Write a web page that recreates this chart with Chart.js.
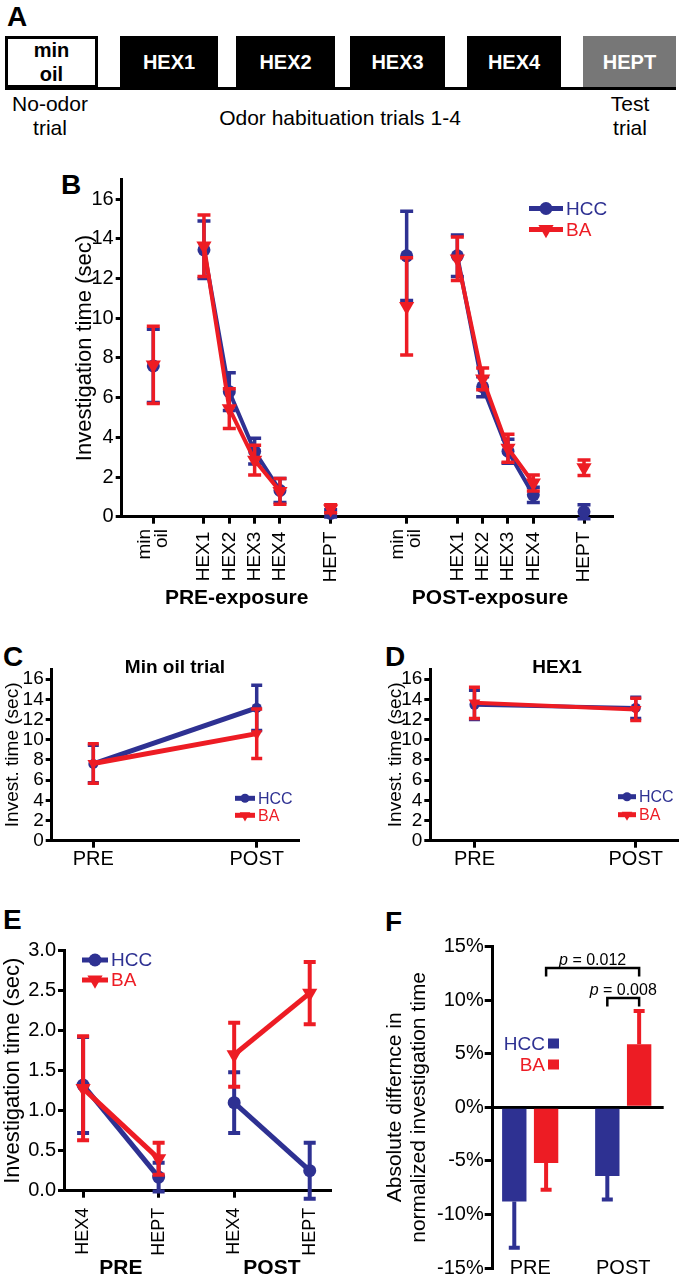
<!DOCTYPE html>
<html>
<head>
<meta charset="utf-8">
<title>Odor habituation</title>
<script src="https://cdn.jsdelivr.net/npm/chart.js@4.4.1/dist/chart.umd.min.js"></script>
<style>
  html, body { margin: 0; padding: 0; background: #fff; }
  body { width: 684px; height: 1280px; position: relative; overflow: hidden;
         font-family: 'Liberation Sans', Arial, Helvetica, sans-serif; color: #000; }
  .letter { position: absolute; font-weight: bold; font-size: 28px; line-height: 1; }
  .stim { position: absolute; top: 36px; height: 52px; box-sizing: border-box;
          display: flex; align-items: center; justify-content: center; text-align: center;
          font-weight: bold; font-size: 20px; color: #fff; background: #000; }
  .note { position: absolute; text-align: center; font-size: 21px; line-height: 24px; }
  canvas { position: absolute; }
</style>
</head>
<body>

<!-- panel A: trial schematic -->
<div class="letter" style="left:7px;top:3px">A</div>
<div class="stim" style="left:5px;width:93px;background:#fff;color:#000;border:3px solid #000;line-height:24.5px">min<br>oil</div>
<div class="stim" style="left:120px;width:98px">HEX1</div>
<div class="stim" style="left:236px;width:99px">HEX2</div>
<div class="stim" style="left:350px;width:95px">HEX3</div>
<div class="stim" style="left:467px;width:94px">HEX4</div>
<div class="stim" style="left:583px;width:93px;background:#777">HEPT</div>
<div style="position:absolute;left:5px;top:87px;width:671px;height:3px;background:#000"></div>
<div class="note" style="left:0;width:100px;top:92px">No-odor<br>trial</div>
<div class="note" style="left:170px;width:340px;top:106px">Odor habituation trials 1-4</div>
<div class="note" style="left:580px;width:100px;top:92px">Test<br>trial</div>

<div class="letter" style="left:61px;top:171px">B</div>
<div class="letter" style="left:3px;top:643px">C</div>
<div class="letter" style="left:385px;top:643px">D</div>
<div class="letter" style="left:3px;top:906px">E</div>
<div class="letter" style="left:385px;top:908px">F</div>

<script>
const FONT = "'Liberation Sans', Arial, Helvetica, sans-serif";
const colHcc = '#2e3192';
const colBa = '#ed1c24';

// ---- B: investigation time per trial, pre and post exposure ----
const bPos = [0, 2, 3, 4, 5, 7, 10, 12, 13, 14, 15, 17];
const bTickLabels = [['min', 'oil'], 'HEX1', 'HEX2', 'HEX3', 'HEX4', 'HEPT',
                     ['min', 'oil'], 'HEX1', 'HEX2', 'HEX3', 'HEX4', 'HEPT'];
const bJoin = [0, 1, 1, 1, 1, 2, 3, 4, 4, 4, 4, 5];   // points with same id are joined
const bHcc    = [7.6, 13.45, 6.3, 3.3, 1.32, 0.17, 13.15, 13.15, 6.55, 3.3, 1.1, 0.25];
const bHccErr = [1.85, 1.45, 0.95, 0.65, 0.6, 0.18, 2.25, 1.05, 0.5, 0.6, 0.38, 0.35];
const bBa     = [7.65, 13.65, 5.45, 2.85, 1.28, 0.4, 10.6, 13.0, 6.95, 3.45, 1.7, 2.47];
const bBaErr  = [1.95, 1.55, 1.0, 0.75, 0.65, 0.2, 2.45, 1.1, 0.55, 0.7, 0.4, 0.39];
const bYTicks = [0, 2, 4, 6, 8, 10, 12, 14, 16];

// ---- C / D: min oil and HEX1 trials, PRE vs POST ----
const cdPos = [0, 1];
const cdLabels = ['PRE', 'POST'];
const cdJoin = [0, 0];
const cHcc = [bHcc[0], bHcc[6]];
const cHccErr = [bHccErr[0], bHccErr[6]];
const cBa = [bBa[0], bBa[6]];
const cBaErr = [bBaErr[0], bBaErr[6]];
const dHcc = [bHcc[1], bHcc[7]];
const dHccErr = [bHccErr[1], bHccErr[7]];
const dBa = [bBa[1], bBa[7]];
const dBaErr = [bBaErr[1], bBaErr[7]];

// ---- E: HEX4 vs HEPT ----
const ePos = [0, 1, 2, 3];
const eLabels = ['HEX4', 'HEPT', 'HEX4', 'HEPT'];
const eJoin = [0, 0, 1, 1];
const eHcc = [bHcc[4], bHcc[5], bHcc[10], bHcc[11]];
const eHccErr = [bHccErr[4], bHccErr[5], bHccErr[10], bHccErr[11]];
const eBa = [bBa[4], bBa[5], bBa[10], bBa[11]];
const eBaErr = [bBaErr[4], bBaErr[5], bBaErr[10], bBaErr[11]];
const eYTicks = [0, 0.5, 1, 1.5, 2, 2.5, 3];

// ---- F: absolute difference in normalized investigation time ----
const fCats = ['PRE', 'POST'];
const fPos = [1, 2];
const fHcc = [-8.8, -6.4];
const fHccErr = [4.3, 2.2];
const fBa = [-5.2, 5.9];
const fBaErr = [2.5, 3.1];
const fYTicks = [-15, -10, -5, 0, 5, 10, 15];

Chart.defaults.font.family = FONT;
Chart.defaults.color = '#000';

function makeCanvas(box) {
  const c = document.createElement('canvas');
  c.width = box.width;
  c.height = box.height;
  c.style.left = box.left + 'px';
  c.style.top = box.top + 'px';
  c.style.width = box.width + 'px';
  c.style.height = box.height + 'px';
  document.body.appendChild(c);
  return c.getContext('2d');
}

// error bars, drawn just before each dataset so later series sit on top
function errorBars(cap, width, oneSided) {
  return {
    id: 'errorBars',
    beforeDatasetDraw(chart, args) {
      const ds = chart.data.datasets[args.index];
      if (!ds.errors) return;
      const ys = chart.scales.y;
      const ctx = chart.ctx;
      ctx.save();
      ctx.strokeStyle = ds.backgroundColor;
      ctx.lineWidth = width;
      args.meta.data.forEach((el, i) => {
        const v = ds.data[i].y, e = ds.errors[i];
        const x = el.x;
        let ends;
        if (oneSided) ends = [v, v >= 0 ? v + e : v - e];
        else ends = [v - e, v + e];
        const p0 = ys.getPixelForValue(ends[0]);
        const p1 = ys.getPixelForValue(ends[1]);
        ctx.beginPath();
        ctx.moveTo(x, p0);
        ctx.lineTo(x, p1);
        (oneSided ? [p1] : [p0, p1]).forEach(p => {
          ctx.moveTo(x - cap, p);
          ctx.lineTo(x + cap, p);
        });
        ctx.stroke();
      });
      ctx.restore();
    }
  };
}

function drawMarker(ctx, style, x, y, r) {
  ctx.beginPath();
  if (style === 'circle') {
    ctx.arc(x, y, r, 0, Math.PI * 2);
  } else {
    ctx.moveTo(x, y + r);
    ctx.lineTo(x - r * 0.866, y - r * 0.5);
    ctx.lineTo(x + r * 0.866, y - r * 0.5);
    ctx.closePath();
  }
  ctx.fill();
}

// "——●—— HCC" style legend
function lineLegend(o) {
  return {
    id: 'lineLegend',
    afterDraw(chart) {
      const ctx = chart.ctx;
      chart.data.datasets.forEach((ds, i) => {
        const y = o.y + i * o.gap;
        ctx.save();
        ctx.strokeStyle = ds.borderColor;
        ctx.fillStyle = ds.borderColor;
        ctx.lineWidth = o.lw;
        ctx.beginPath();
        ctx.moveTo(o.x, y);
        ctx.lineTo(o.x + o.len, y);
        ctx.stroke();
        drawMarker(ctx, ds.pointStyle, o.x + o.len / 2, y,
                   ds.pointStyle === 'circle' ? o.r : o.r * 1.35);
        ctx.font = o.size + 'px ' + FONT;
        ctx.textAlign = 'left';
        ctx.textBaseline = 'middle';
        ctx.fillText(ds.label, o.x + o.len + 3, y + 1);
        ctx.restore();
      });
    }
  };
}

// free text; xv places it through the x scale, lines + rot give rotated tick-style labels
function panelText(items) {
  return {
    id: 'panelText',
    afterDraw(chart) {
      const ctx = chart.ctx;
      items.forEach(it => {
        ctx.save();
        ctx.font = it.font;
        ctx.fillStyle = it.color || '#000';
        ctx.textBaseline = 'middle';
        const x = it.xv !== undefined ? chart.scales.x.getPixelForValue(it.xv) : it.x;
        if (it.lines) {
          ctx.translate(x, it.y);
          ctx.rotate(-Math.PI / 2);
          ctx.textAlign = 'right';
          it.lines.forEach((t, k) => {
            ctx.fillText(t, 0, (k - (it.lines.length - 1) / 2) * it.lh);
          });
        } else {
          ctx.textAlign = 'center';
          ctx.fillText(it.text, x, it.y);
        }
        ctx.restore();
      });
    }
  };
}

function lineSet(label, pos, vals, errs, join, color, style, r, lw, order) {
  return {
    label: label,
    order: order,
    data: pos.map((x, i) => ({ x: x, y: vals[i] })),
    errors: errs,
    borderColor: color,
    backgroundColor: color,
    borderWidth: lw,
    pointStyle: style,
    pointRadius: style === 'circle' ? r : r * 1.35,
    pointRotation: style === 'triangle' ? 180 : 0,
    pointBorderWidth: 0,
    clip: false,
    segment: {
      borderColor: c => join[c.p0DataIndex] === join[c.p1DataIndex] ? color : 'rgba(0,0,0,0)'
    }
  };
}

function lineChart(box, o) {
  const ctx = makeCanvas(box);
  return new Chart(ctx, {
    type: 'line',
    data: {
      datasets: [
        lineSet('HCC', o.pos, o.hcc, o.hccErr, o.join, colHcc, 'circle', o.r, o.lw, 2),
        lineSet('BA', o.pos, o.ba, o.baErr, o.join, colBa, 'triangle', o.r, o.lw, 1)
      ]
    },
    options: {
      responsive: false,
      animation: false,
      devicePixelRatio: 1,
      layout: {
        padding: { left: 0, top: box.area.t - box.top, right: box.left + box.width - box.area.r, bottom: 0 }
      },
      plugins: { legend: { display: false }, tooltip: { enabled: false } },
      scales: {
        x: {
          type: 'linear',
          min: o.xMin,
          max: o.xMax,
          afterBuildTicks: s => { s.ticks = o.pos.map(v => ({ value: v })); },
          afterFit: s => { s.height = box.top + box.height - box.area.b; },
          ticks: {
            autoSkip: false,
            callback: (v, i) => Array.isArray(o.labels[i]) ? '' : o.labels[i],
            font: { size: o.xFont },
            color: '#000',
            padding: o.xPad,
            minRotation: o.rot,
            maxRotation: o.rot
          },
          grid: { drawOnChartArea: false, color: '#000', lineWidth: 3, tickLength: 7 },
          border: { color: '#000', width: 3 }
        },
        y: {
          min: o.yMin,
          max: o.yMax,
          afterBuildTicks: s => { s.ticks = o.yTicks.map(v => ({ value: v })); },
          afterFit: s => { s.width = box.area.l - box.left; },
          ticks: {
            autoSkip: false,
            callback: o.yFmt || (v => v),
            font: { size: o.yFont },
            color: '#000',
            padding: 2
          },
          title: {
            display: true,
            text: o.title,
            font: { size: o.titleSize },
            color: '#000',
            padding: { top: o.titlePad, bottom: 0 }
          },
          grid: { drawOnChartArea: false, color: '#000', lineWidth: 3, tickLength: 6 },
          border: { color: '#000', width: 3 }
        }
      }
    },
    plugins: [errorBars(o.cap, o.ew, false), lineLegend(o.legend), panelText(o.texts)]
  });
}

// B
lineChart({ left: 0, top: 160, width: 684, height: 460, area: { l: 121.7, t: 179.4, r: 612, b: 516.7 } }, {
  pos: bPos, labels: bTickLabels, join: bJoin,
  hcc: bHcc, hccErr: bHccErr, ba: bBa, baErr: bBaErr,
  xMin: -1.247, xMax: 18.105, xFont: 19, xPad: 8, rot: 90,
  yMin: 0, yMax: 17, yTicks: bYTicks, yFont: 20,
  title: 'Investigation time (sec)', titleSize: 22, titlePad: 72,
  r: 6.5, lw: 4, cap: 6.5, ew: 3.5,
  legend: { x: 529, y: 48.5, gap: 21, len: 34, lw: 5, r: 6.5, size: 19 },
  texts: [
    { text: 'PRE-exposure', xv: 3.29, y: 438, font: 'bold 21px ' + FONT },
    { text: 'POST-exposure', xv: 13.29, y: 438, font: 'bold 21px ' + FONT },
    { lines: bTickLabels[0], xv: bPos[0], y: 369, lh: 17, font: '19px ' + FONT },
    { lines: bTickLabels[6], xv: bPos[6], y: 369, lh: 17, font: '19px ' + FONT }
  ]
});

// C
lineChart({ left: 0, top: 630, width: 342, height: 245, area: { l: 51.7, t: 669, r: 298, b: 840.7 } }, {
  pos: cdPos, labels: cdLabels, join: cdJoin,
  hcc: cHcc, hccErr: cHccErr, ba: cBa, baErr: cBaErr,
  xMin: -0.2546, xMax: 1.2527, xFont: 20, xPad: 0, rot: 0,
  yMin: 0, yMax: 17, yTicks: bYTicks, yFont: 19,
  title: 'Invest. time (sec)', titleSize: 19, titlePad: 1,
  r: 5, lw: 5, cap: 5.5, ew: 3.5,
  legend: { x: 235, y: 168.3, gap: 17, len: 20, lw: 5, r: 4.5, size: 16 },
  texts: [{ text: 'Min oil trial', x: 175, y: 38, font: 'bold 19px ' + FONT }]
});

// D
lineChart({ left: 342, top: 630, width: 342, height: 245, area: { l: 430.3, t: 669, r: 682, b: 840.7 } }, {
  pos: cdPos, labels: cdLabels, join: cdJoin,
  hcc: dHcc, hccErr: dHccErr, ba: dBa, baErr: dBaErr,
  xMin: -0.2737, xMax: 1.2573, xFont: 20, xPad: 0, rot: 0,
  yMin: 0, yMax: 17, yTicks: bYTicks, yFont: 19,
  title: 'Invest. time (sec)', titleSize: 19, titlePad: 42,
  r: 5, lw: 4, cap: 5.5, ew: 3.5,
  legend: { x: 276, y: 166.7, gap: 18, len: 18, lw: 5, r: 4.5, size: 16 },
  texts: [{ text: 'HEX1', x: 215, y: 38, font: 'bold 19px ' + FONT }]
});

// E
lineChart({ left: 0, top: 900, width: 342, height: 380, area: { l: 64, t: 950.7, r: 333, b: 1190.7 } }, {
  pos: ePos, labels: eLabels, join: eJoin,
  hcc: eHcc, hccErr: eHccErr, ba: eBa, baErr: eBaErr,
  xMin: -0.2528, xMax: 3.271, xFont: 18, xPad: 10, rot: 90,
  yMin: 0, yMax: 3, yTicks: eYTicks, yFont: 20, yFmt: v => v.toFixed(1),
  title: 'Investigation time (sec)', titleSize: 22, titlePad: 0,
  r: 6.5, lw: 5, cap: 6, ew: 4,
  legend: { x: 82, y: 60, gap: 20, len: 26, lw: 5, r: 6.5, size: 19 },
  texts: [
    { text: 'PRE', xv: 0.5, y: 368, font: 'bold 21px ' + FONT },
    { text: 'POST', xv: 2.5, y: 368, font: 'bold 21px ' + FONT }
  ]
});

// F
(function () {
  const box = { left: 342, top: 900, width: 342, height: 395, area: { l: 492.7, t: 946.7, r: 663.7, b: 1268 } };
  const ctx = makeCanvas(box);
  const brackets = [
    { from: [1, 0], to: [1, 1], y: 13.0, label: '0.012' },
    { from: [0, 1], to: [1, 1], y: 10.2, label: '0.008' }
  ];
  const bracketPlugin = {
    id: 'brackets',
    afterDatasetsDraw(chart) {
      const c = chart.ctx, ys = chart.scales.y;
      brackets.forEach(b => {
        const x1 = chart.getDatasetMeta(b.from[0]).data[b.from[1]].x;
        const x2 = chart.getDatasetMeta(b.to[0]).data[b.to[1]].x;
        const y = ys.getPixelForValue(b.y);
        c.save();
        c.strokeStyle = '#000';
        c.lineWidth = 2.5;
        c.beginPath();
        c.moveTo(x1, y + 8.5);
        c.lineTo(x1, y);
        c.lineTo(x2, y);
        c.lineTo(x2, y + 8.5);
        c.stroke();
        const it = 'italic 16px ' + FONT, nf = '16px ' + FONT;
        const rest = ' = ' + b.label;
        c.font = it; const w1 = c.measureText('p').width;
        c.font = nf; const w2 = c.measureText(rest).width;
        const sx = (x1 + x2) / 2 - (w1 + w2) / 2;
        c.fillStyle = '#000';
        c.textBaseline = 'alphabetic';
        c.font = it; c.fillText('p', sx, y - 3);
        c.font = nf; c.fillText(rest, sx + w1, y - 3);
        c.restore();
      });
    }
  };
  const boxLegend = {
    id: 'boxLegend',
    afterDraw(chart) {
      const c = chart.ctx;
      chart.data.datasets.forEach((ds, i) => {
        const y = 143.5 + i * 21;
        c.save();
        c.fillStyle = ds.backgroundColor;
        c.font = '19px ' + FONT;
        c.textAlign = 'right';
        c.textBaseline = 'middle';
        c.fillText(ds.label, 203, y + 1);
        c.fillRect(206, y - 5, 11, 10);
        c.restore();
      });
    }
  };
  new Chart(ctx, {
    type: 'bar',
    data: {
      datasets: [
        { label: 'HCC', data: fPos.map((x, i) => ({ x: x, y: fHcc[i] })), errors: fHccErr,
          backgroundColor: colHcc, borderColor: colHcc, borderWidth: 0,
          categoryPercentage: 0.684, barPercentage: 0.766 },
        { label: 'BA', data: fPos.map((x, i) => ({ x: x, y: fBa[i] })), errors: fBaErr,
          backgroundColor: colBa, borderColor: colBa, borderWidth: 0,
          categoryPercentage: 0.684, barPercentage: 0.766 }
      ]
    },
    options: {
      responsive: false,
      animation: false,
      devicePixelRatio: 1,
      layout: {
        padding: { left: 0, top: box.area.t - box.top, right: box.left + box.width - box.area.r,
                   bottom: box.top + box.height - box.area.b }
      },
      plugins: { legend: { display: false }, tooltip: { enabled: false } },
      scales: {
        x: {
          type: 'linear',
          display: false,
          offset: false,
          min: 0.597,
          max: 2.435,
          afterBuildTicks: s => { s.ticks = fPos.map(v => ({ value: v })); }
        },
        y: {
          min: -15,
          max: 15,
          afterBuildTicks: s => { s.ticks = fYTicks.map(v => ({ value: v })); },
          afterFit: s => { s.width = box.area.l - box.left; },
          ticks: { autoSkip: false, callback: v => v + '%', font: { size: 20 }, color: '#000', padding: 1 },
          title: {
            display: true,
            text: ['Absolute differnce in', 'normalized investigation time'],
            font: { size: 21, lineHeight: 1.15 },
            color: '#000',
            padding: { top: 41, bottom: 0 }
          },
          grid: {
            drawOnChartArea: true,
            color: c => (c.tick && c.tick.value === 0) ? '#000' : 'rgba(0,0,0,0)',
            lineWidth: 3,
            tickColor: '#000',
            tickWidth: 3,
            tickLength: 8
          },
          border: { color: '#000', width: 3 }
        }
      }
    },
    plugins: [
      errorBars(5.5, 4, true),
      bracketPlugin,
      boxLegend,
      panelText(fCats.map((t, i) => ({ text: t, xv: fPos[i], y: 368, font: '20px ' + FONT })))
    ]
  });
})();
</script>
</body>
</html>
